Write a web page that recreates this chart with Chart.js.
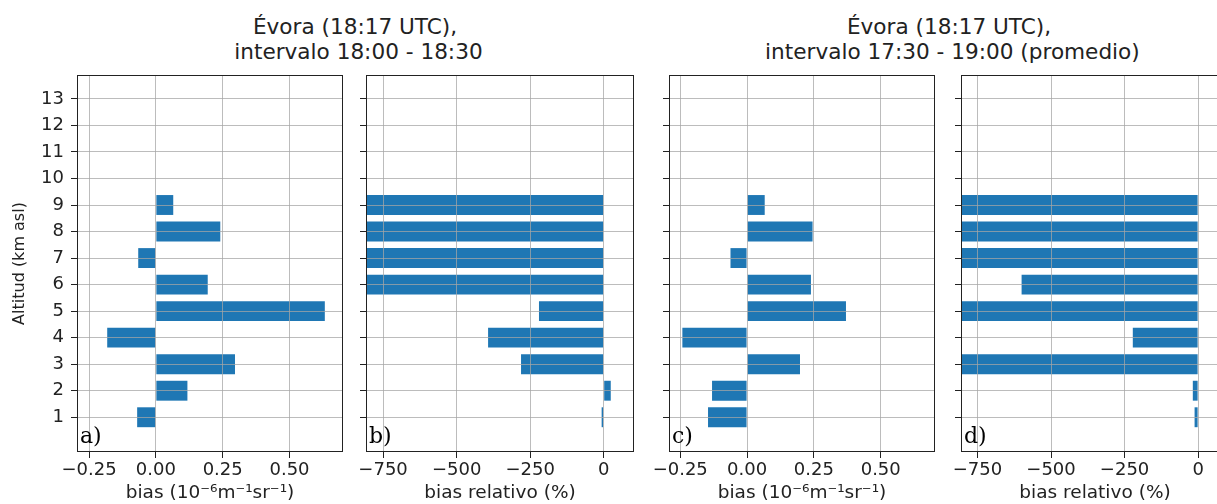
<!DOCTYPE html>
<html>
<head>
<meta charset="utf-8">
<script src="https://cdn.jsdelivr.net/npm/chart.js@4.4.0/dist/chart.umd.min.js"></script>
<style>
  body { margin: 0; width: 1217px; height: 504px; overflow: hidden; background: #fff; position: relative; font-family: "DejaVu Sans", sans-serif; }
  canvas { position: absolute; top: 0; }
  .title { position: absolute; top: 14px; width: 460px; text-align: center; font-size: 21.6px; line-height: 25px; color: #222; white-space: pre; }
</style>
</head>
<body>
<div class="title" style="left:125px">Évora (18:17 UTC),
 intervalo 18:00 - 18:30</div>
<div class="title" style="left:719px">Évora (18:17 UTC),
 intervalo 17:30 - 19:00 (promedio)</div>

<canvas id="pa" width="350" height="504" style="left:0px"></canvas>
<canvas id="pb" width="290" height="504" style="left:350px"></canvas>
<canvas id="pc" width="300" height="504" style="left:640px"></canvas>
<canvas id="pd" width="300" height="504" style="left:940px"></canvas>

<script>
// altitudes (km asl) of the bars
const altitudes = [1, 2, 3, 4, 5, 6, 7, 8, 9]
const altTicks = [1, 2, 3, 4, 5, 6, 7, 8, 9, 10, 11, 12, 13]

// a) 18:00 - 18:30
const biasA = [-0.07, 0.118, 0.296, -0.182, 0.632, 0.194, -0.066, 0.241, 0.065]
// b) relative bias; -1000 = bars running off the left edge
const relA = [-7, 24, -281, -393, -220, -1000, -1000, -1000, -1000]
// c) 17:30 - 19:00 average
const biasC = [-0.146, -0.131, 0.198, -0.242, 0.37, 0.239, -0.062, 0.245, 0.066]
// d) relative bias, averaged
const relC = [-12, -18, -1000, -222, -1000, -600, -1000, -1000, -1000]

const biasTicks = [-0.25, 0, 0.25, 0.5]
const relTicks = [-750, -500, -250, 0]

Chart.defaults.font.family = '"DejaVu Sans", sans-serif'
Chart.defaults.font.size = 18
Chart.defaults.color = "#222"

const minus = (s) => s.replace("-", "\u2212")

// frame + panel letter
const framePlugin = {
  id: "frame",
  afterDraw(chart, args, opts) {
    const { ctx, chartArea } = chart
    ctx.save()
    ctx.strokeStyle = "#222"
    ctx.lineWidth = 1
    const l = Math.round(chartArea.left) + 0.5
    const t = Math.round(chartArea.top) + 0.5
    const r = Math.round(chartArea.right) - 0.5
    const b = Math.round(chartArea.bottom) - 0.5
    ctx.strokeRect(l, t, r - l, b - t)
    ctx.font = '22px "DejaVu Serif", serif'
    ctx.fillStyle = "#000"
    ctx.textBaseline = "alphabetic"
    ctx.fillText(opts.text, chartArea.left + 3, chartArea.bottom - 9)
    ctx.restore()
  },
}

function makePanel(id, yWidth, rightPad, values, xMin, xMax, xTicks, fmt, xTitle, letter, showY) {
  new Chart(document.getElementById(id), {
    type: "bar",
    data: {
      datasets: [
        {
          data: altitudes.map((a, i) => ({ x: values[i], y: a })),
          backgroundColor: "#1f77b4",
          borderWidth: 0,
          barPercentage: 0.75,
          categoryPercentage: 1,
        },
      ],
    },
    options: {
      indexAxis: "y",
      responsive: false,
      animation: false,
      devicePixelRatio: 1,
      layout: { padding: { left: 0, right: rightPad, top: 75, bottom: 0 } },
      plugins: {
        legend: { display: false },
        tooltip: { enabled: false },
        frame: { text: letter },
      },
      scales: {
        x: {
          type: "linear",
          min: xMin,
          max: xMax,
          afterBuildTicks: (s) => { s.ticks = xTicks.map((v) => ({ value: v })) },
          afterFit: (s) => { s.height = 52 },
          ticks: { autoSkip: false, maxRotation: 0, padding: 2, callback: (v) => minus(fmt(v)) },
          grid: { z: 1, color: "rgba(165,165,165,0.75)", lineWidth: 1, tickLength: 6, tickColor: "#222" },
          border: { display: false },
          title: { display: true, text: xTitle, font: { size: 18.5 }, padding: { top: 0, bottom: 0 } },
        },
        y: {
          type: "linear",
          offset: false,
          min: -0.31,
          max: 13.9,
          afterBuildTicks: (s) => { s.ticks = altTicks.map((v) => ({ value: v })) },
          afterFit: (s) => { s.width = yWidth },
          ticks: { display: showY, autoSkip: false, padding: 7 },
          grid: { offset: false, z: 1, color: "rgba(165,165,165,0.75)", lineWidth: 1, tickLength: 6, tickColor: "#222" },
          border: { display: false },
          title: { display: showY, text: "Altitud (km asl)", font: { size: 16 }, padding: { top: 10, bottom: 0 } },
        },
      },
    },
    plugins: [framePlugin],
  })
}

const biasLabel = "bias (10\u207B\u2076m\u207B\u00B9sr\u207B\u00B9)"
const fmtBias = (v) => v.toFixed(2)
const fmtRel = (v) => String(v)

makePanel("pa", 77, 7, biasA, -0.295, 0.7, biasTicks, fmtBias, biasLabel, "a)", true)
makePanel("pb", 16, 6, relA, -808, 103, relTicks, fmtRel, "bias relativo (%)", "b)", false)
makePanel("pc", 29, 5, biasC, -0.292, 0.703, biasTicks, fmtBias, biasLabel, "c)", false)
makePanel("pd", 21, 11, relC, -806, 105, relTicks, fmtRel, "bias relativo (%)", "d)", false)
</script>
</body>
</html>
